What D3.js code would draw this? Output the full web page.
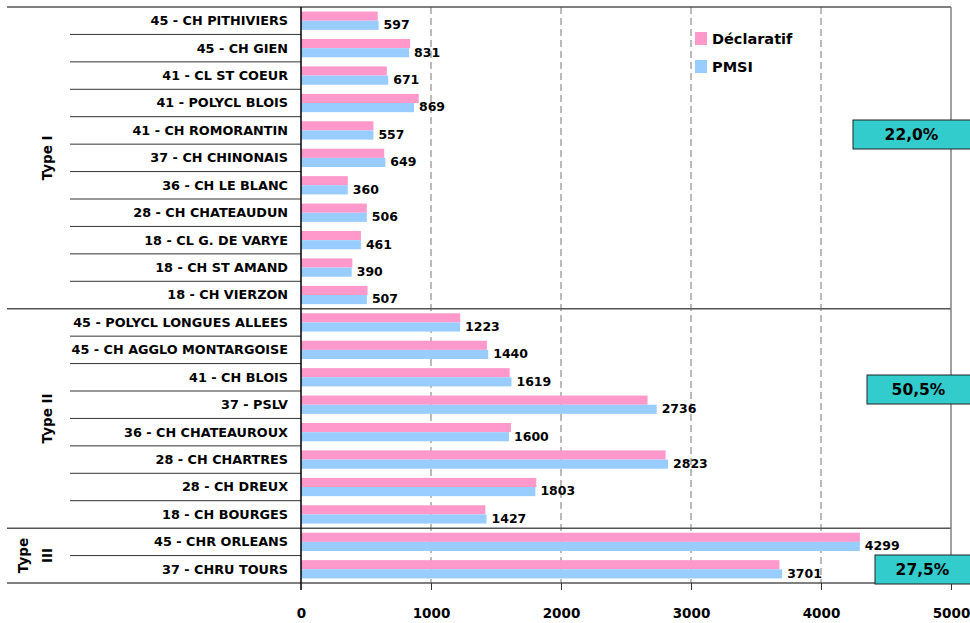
<!DOCTYPE html>
<html>
<head>
<meta charset="utf-8">
<script src="https://cdn.jsdelivr.net/npm/d3@7/dist/d3.min.js"></script>
<style>
  html, body { margin: 0; padding: 0; background: #fff; }
  svg { display: block; font-family: "DejaVu Sans", sans-serif; font-weight: bold; }
</style>
</head>
<body>
<svg id="chart" width="970" height="623"></svg>
<script>
const categories = [
  "45 - CH PITHIVIERS", "45 - CH GIEN", "41 - CL ST COEUR", "41 - POLYCL BLOIS",
  "41 - CH ROMORANTIN", "37 - CH CHINONAIS", "36 - CH LE BLANC", "28 - CH CHATEAUDUN",
  "18 - CL G. DE VARYE", "18 - CH ST AMAND", "18 - CH VIERZON",
  "45 - POLYCL LONGUES ALLEES", "45 - CH AGGLO MONTARGOISE", "41 - CH BLOIS", "37 - PSLV",
  "36 - CH CHATEAUROUX", "28 - CH CHARTRES", "28 - CH DREUX", "18 - CH BOURGES",
  "45 - CHR ORLEANS", "37 - CHRU TOURS"
];
const declaratif = [590, 840, 660, 905, 557, 640, 360, 506, 461, 395, 512,
                    1225, 1430, 1605, 2666, 1615, 2805, 1810, 1418,
                    4299, 3680];
const pmsi = [597, 831, 671, 869, 557, 649, 360, 506, 461, 390, 507,
              1223, 1440, 1619, 2736, 1600, 2823, 1803, 1427,
              4299, 3701];
const groupNames = [["Type I"], ["Type II"], ["Type", "III"]];
const groupSizes = [11, 8, 2];
const groupShares = ["22,0%", "50,5%", "27,5%"];
const seriesNames = ["Déclaratif", "PMSI"];
const xTicks = [0, 1000, 2000, 3000, 4000, 5000];

const colors = { "Déclaratif": "#FF99CC", "PMSI": "#99CCFF" };
const svg = d3.select("#chart");

const plotLeft = 301, plotRight = 951, plotTop = 7, plotBottom = 583;
const x = d3.scaleLinear().domain([0, 5000]).range([plotLeft, plotRight]);
const y = d3.scaleBand().domain(categories).range([plotTop, plotBottom]).padding(0);
const ySub = d3.scaleBand().domain(seriesNames).range([0, y.bandwidth()]).paddingInner(0).paddingOuter(0.5);

// gridlines
svg.append("g").selectAll("line").data(xTicks.filter(d => d > 0 && d < 5000)).join("line")
  .attr("x1", d => x(d)).attr("x2", d => x(d))
  .attr("y1", plotTop).attr("y2", plotBottom)
  .attr("stroke", "#777").attr("stroke-width", 1).attr("stroke-dasharray", "7,4");

// bars
const rows = categories.map((c, i) => ({ cat: c, vals: [declaratif[i], pmsi[i]] }));
const rowG = svg.append("g").selectAll("g").data(rows).join("g")
  .attr("transform", d => `translate(0,${y(d.cat)})`);
rowG.selectAll("rect").data(d => seriesNames.map((s, k) => ({ s, v: d.vals[k] }))).join("rect")
  .attr("x", x(0)).attr("y", d => ySub(d.s))
  .attr("width", d => x(d.v) - x(0)).attr("height", ySub.bandwidth())
  .attr("fill", d => colors[d.s]);

// value labels (PMSI)
rowG.append("text")
  .attr("x", d => x(d.vals[1]) + 5)
  .attr("y", ySub("PMSI") + ySub.bandwidth() / 2 - 0.5)
  .attr("dy", "0.35em")
  .attr("font-size", 12.5).attr("fill", "#000")
  .text(d => d.vals[1]);

// category labels
svg.append("g").selectAll("text").data(categories).join("text")
  .attr("x", plotLeft - 13).attr("y", d => y(d) + y.bandwidth() / 2)
  .attr("dy", "0.35em").attr("text-anchor", "end")
  .attr("font-size", 12.8).attr("fill", "#000")
  .text(d => d);

// group structure
let start = 0;
const groupBounds = groupSizes.map(n => { const b = [start, start + n]; start += n; return b; });
const edgeY = i => i < categories.length ? y(categories[i]) : plotBottom;

// inner separators
const inner = [];
groupBounds.forEach(([a, b]) => { for (let i = a + 1; i < b; i++) inner.push(edgeY(i)); });
svg.append("g").selectAll("line").data(inner).join("line")
  .attr("x1", 70).attr("x2", plotLeft).attr("y1", d => d).attr("y2", d => d)
  .attr("stroke", "#333").attr("stroke-width", 1);

// full-width separators
const outer = [plotTop].concat(groupBounds.map(b => edgeY(b[1])));
svg.append("g").selectAll("line").data(outer).join("line")
  .attr("x1", 7).attr("x2", plotRight).attr("y1", d => d).attr("y2", d => d)
  .attr("stroke", "#555").attr("stroke-width", 1.5);

// right border
svg.append("line").attr("x1", plotRight).attr("x2", plotRight)
  .attr("y1", plotTop).attr("y2", plotBottom)
  .attr("stroke", "#808080").attr("stroke-width", 1.5);

// left axis line
svg.append("line").attr("x1", plotLeft).attr("x2", plotLeft)
  .attr("y1", plotTop).attr("y2", plotBottom + 7)
  .attr("stroke", "#000").attr("stroke-width", 1.5);

// group labels
groupNames.forEach((lines, gi) => {
  const [a, b] = groupBounds[gi];
  const cy = (edgeY(a) + edgeY(b)) / 2;
  const t = svg.append("text")
    .attr("transform", `translate(${lines.length > 1 ? 23 : 47},${cy}) rotate(-90)`)
    .attr("text-anchor", "middle").attr("dy", "0.35em")
    .attr("font-size", 13.5).attr("fill", "#000");
  lines.forEach((l, k) => t.append("tspan").attr("x", 0).attr("dy", k === 0 ? "0.35em" : "1.8em").text(l));
});

// x axis
const xAxis = d3.axisBottom(x).tickValues(xTicks).tickSize(7).tickPadding(18).tickFormat(d3.format("d"));
const ax = svg.append("g").attr("transform", `translate(0,${plotBottom})`).call(xAxis);
ax.select(".domain").remove();
ax.selectAll(".tick line").attr("stroke", "#333");
ax.selectAll(".tick text").attr("font-size", 13.5).attr("font-family", "DejaVu Sans").attr("font-weight", "bold").attr("fill", "#000");

// legend
const legend = svg.append("g").selectAll("g").data(seriesNames).join("g")
  .attr("transform", (d, i) => `translate(695,${32 + i * 28})`);
legend.append("rect").attr("width", 12).attr("height", 13).attr("fill", d => colors[d]);
legend.append("text").attr("x", 17).attr("y", 7).attr("dy", "0.35em")
  .attr("font-size", 14.5).attr("fill", "#000").text(d => d);

// share boxes
const boxLayout = [{ x: 853, y: 120 }, { x: 867, y: 375 }, { x: 875, y: 555 }];
groupShares.forEach((s, i) => {
  const b = boxLayout[i];
  svg.append("rect").attr("x", b.x).attr("y", b.y).attr("width", 130).attr("height", 29)
    .attr("fill", "#33CCCC").attr("stroke", "#222").attr("stroke-width", 1);
  svg.append("text").attr("x", b.x + (970 - b.x) / 2).attr("y", b.y + 14.5).attr("dy", "0.35em")
    .attr("text-anchor", "middle").attr("font-size", 15.5).attr("fill", "#000").text(s);
});
</script>
</body>
</html>
